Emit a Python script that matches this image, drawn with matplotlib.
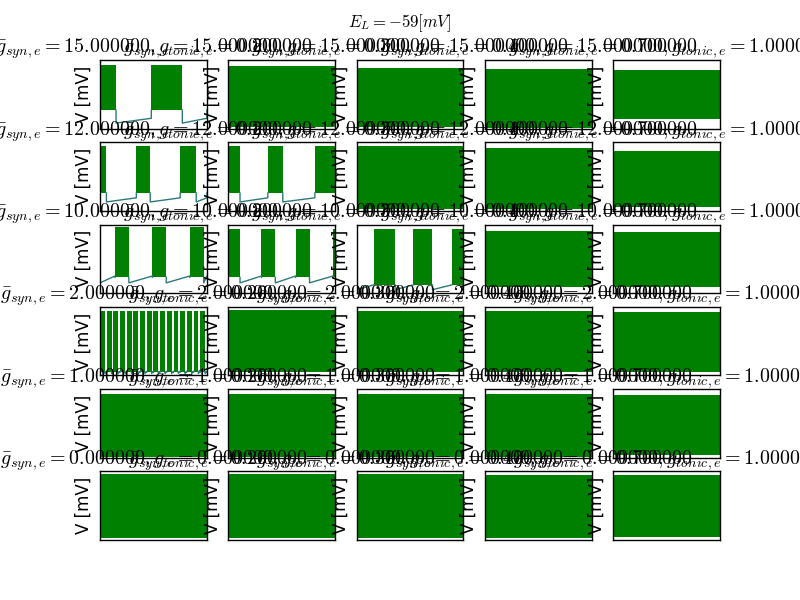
import matplotlib.pyplot as plt

plt.style.use('classic')

E_L = -59
g_syn = [15, 12, 10, 2, 1, 0]
g_tonic = [0.2, 0.3, 0.4, 0.7, 1.0]
T = 1000.0  # ms

# spike peaks per panel [mV] (rows: g_syn, cols: g_tonic)
peak = [[31.6, 29.2, 26.8, 24.4, 22.6],
        [32.8, 32.8, 32.8, 29.2, 25.6],
        [35.2, 33.0, 31.6, 29.2, 26.8],
        [32.8, 35.2, 32.8, 32.8, 31.6],
        [31.6, 31.6, 31.6, 31.6, 29.2],
        [35.2, 35.2, 35.2, 34.0, 34.0]]
# lower edge of the spiking band [mV]
low = [[-47.6, -76.4, -76.4, -78.8, -63.2],
       [-48.8, -48.8, -76.4, -76.4, -74.0],
       [-52.4, -52.4, -65.6, -69.2, -69.2],
       [-74.0, -74.0, -74.0, -74.0, -74.0],
       [-78.8, -78.8, -78.8, -78.8, -75.2],
       [-76.4, -76.4, -76.4, -76.4, -74.0]]
# membrane potential between bursts: just after a burst, just before the next
rest_lo = [[-70.4, 0, 0, 0, 0],
           [-64.4, -64.4, 0, 0, 0],
           [-62.0, -62.0, -74.0, 0, 0],
           [-76.4, 0, 0, 0, 0],
           [0, 0, 0, 0, 0],
           [0, 0, 0, 0, 0]]
rest_hi = [[-62.0, 0, 0, 0, 0],
           [-57.2, -57.2, 0, 0, 0],
           [-50.0, -50.0, -65.6, 0, 0],
           [-72.8, 0, 0, 0, 0],
           [0, 0, 0, 0, 0],
           [0, 0, 0, 0, 0]]
# burst windows [ms]; panels not listed spike the whole run
bursts = {
    (0, 0): [(0, 150), (480, 770)],
    (1, 0): [(0, 60), (340, 470), (750, 900)],
    (1, 1): [(0, 110), (370, 510), (810, 1000)],
    (2, 0): [(140, 270), (490, 620), (840, 970)],
    (2, 1): [(0, 110), (310, 440), (630, 760), (980, 1000)],
    (2, 2): [(160, 360), (530, 710), (890, 1000)],
    (3, 0): [(0, 45), (62, 108), (125, 170), (188, 233), (250, 295),
             (312, 358), (375, 420), (438, 483), (500, 545), (562, 608),
             (625, 670), (688, 733), (750, 795), (812, 858), (875, 920),
             (938, 983)],
}

fig, axs = plt.subplots(6, 5, figsize=(8, 6))
for i, gs in enumerate(g_syn):
    for j, gt in enumerate(g_tonic):
        ax = axs[i, j]
        wins = bursts.get((i, j), [(0, T)])
        for s, e in wins:
            ax.fill_between([s, e], [low[i][j]] * 2, [peak[i][j]] * 2,
                            color='g', lw=0)
        # quiet stretches between bursts
        edges = [0] + [v for w in wins for v in w] + [T]
        for a, b in zip(edges[0::2], edges[1::2]):
            if b - a <= 0:
                continue
            ax.plot([a, a, b, b],
                    [low[i][j], rest_lo[i][j], rest_hi[i][j], low[i][j]],
                    color='#2b7a78', lw=1)
        ax.set_xlim(0, T)
        ax.set_ylim(-80, 40)
        ax.set_xticks([])
        ax.set_yticks([])
        ax.set_ylabel('V [mV]')
        ax.set_title(r'$\bar{g}_{syn,e} = %f, g_{tonic,e} = %f$' % (gs, gt))

fig.suptitle(r'$E_L = %d [mV]$' % E_L)
fig.savefig('out.png', dpi=100)
